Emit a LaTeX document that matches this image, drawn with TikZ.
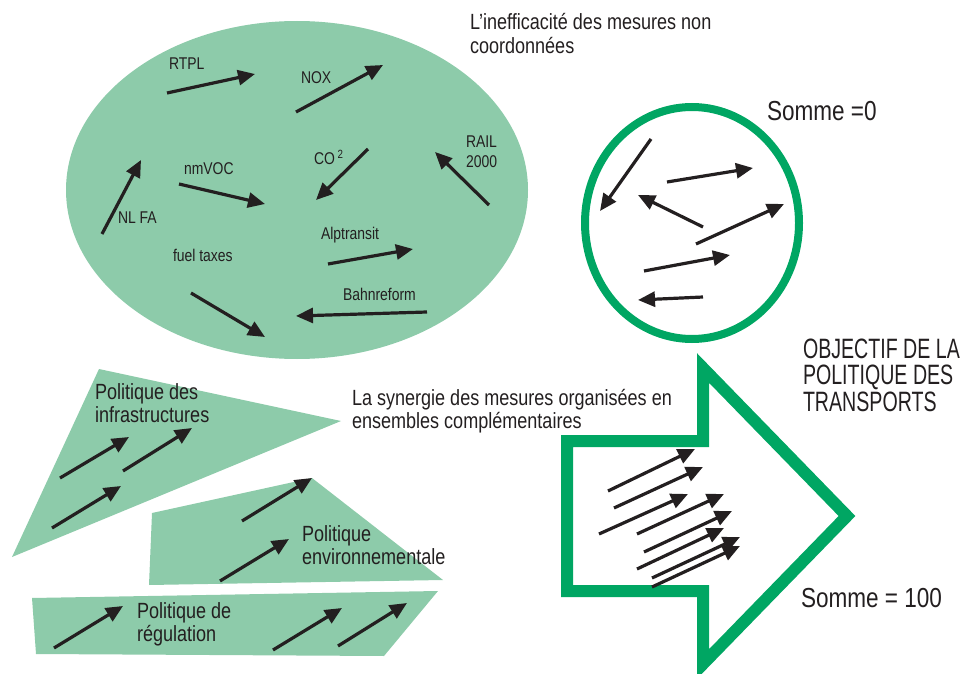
\documentclass[tikz,border=0pt]{standalone}
\usepackage{fontspec}
\setmainfont[FakeStretch=0.82]{Liberation Sans}
\newfontfamily\capsfont[FakeStretch=0.70]{Liberation Sans}
\usetikzlibrary{arrows.meta}

\definecolor{ink}{RGB}{35,31,32}
\definecolor{pale}{RGB}{141,203,170}
\definecolor{rim}{RGB}{0,166,99}

% two left-aligned lines whose baseline is the first line's baseline
\newcommand{\pair}[2]{\begin{tabular}[t]{@{}l@{}}#1\\#2\end{tabular}}

\tikzset{
  vec/.style={line width=3.2pt, draw=ink, -{Triangle[length=17pt,width=15pt]}},
  txt/.style={anchor=base west, inner sep=0pt, outer sep=0pt, text=ink},
  small/.style={txt, font=\fontsize{17}{19.5}\selectfont},
  body/.style={txt, font=\fontsize{22}{23}\selectfont},
  big/.style={txt, font=\fontsize{27.5}{30}\selectfont},
  heading/.style={txt, font=\capsfont\fontsize{28}{23.5}\selectfont},
  patch/.style={fill=pale, draw=none},
}

\begin{document}
\begin{tikzpicture}[x=1pt, y=-1pt]
\useasboundingbox (0,0) rectangle (962,674);

% ---------- uncoordinated measures: green ellipse ----------
\fill[pale] (297,190) ellipse [x radius=231, y radius=169];

\draw[vec] (167,93) -- (255,74);
\draw[vec] (296,112) -- (383,65);
\draw[vec] (368,149) -- (316,200);
\draw[vec] (489,205) -- (435,152);
\draw[vec] (179,184) -- (265,204);
\draw[vec] (102,234) -- (141,160);
\draw[vec] (328,264) -- (413,249);
\draw[vec] (191,293) -- (265,337);
\draw[vec] (427,312) -- (296,316);

\node[small] (rtpl) at (169,70) {RTPL};
\node[small] (nox) at (301,84) {NOX};
\node[small] (co2) at (314,165) {CO\,\textsuperscript{2}};
\node[small] (rail) at (466,148) {\pair{RAIL}{2000}};
\node[small] (nmvoc) at (184,175) {nmVOC};
\node[small] (nlfa) at (118,223) {NL FA};
\node[small] (alp) at (321,240) {Alptransit};
\node[small] (fuel) at (173,261) {fuel taxes};
\node[small] (bahn) at (343,300) {Bahnreform};

\node[body] (ineff) at (470,30) {\pair{L’inefficacité des mesures non}{coordonnées}};

% ---------- sum zero: outlined circle ----------
\draw[rim, line width=8pt] (692,223) ellipse [x radius=107, y radius=116];
\draw[vec] (651,139) -- (600,211);
\draw[vec] (667,182) -- (753,168);
\draw[vec] (703,227) -- (638,195);
\draw[vec] (696,244) -- (784,204);
\draw[vec] (644,271) -- (730,255);
\draw[vec] (703,297) -- (638,300);
\node[big] (zero) at (767,121) {Somme =0};

% ---------- policy groups ----------
\path[patch] (99,369) -- (341,421) -- (12,557) -- cycle;
\path[patch] (152,513) -- (312,478) -- (443,580) -- (149,585) -- cycle;
\path[patch] (32,598) -- (438,591) -- (384,656) -- (36,654) -- cycle;

\draw[vec] (60,478) -- (129,437);
\draw[vec] (123,471) -- (192,428);
\draw[vec] (52,528) -- (121,486);
\draw[vec] (242,521) -- (312,478);
\draw[vec] (220,581) -- (289,539);
\draw[vec] (54,648) -- (123,606);
\draw[vec] (273,650) -- (342,608);
\draw[vec] (338,646) -- (407,603);

\node[body] (infra) at (95,399) {\pair{Politique des}{infrastructures}};
\node[body] (env) at (302,541) {\pair{Politique}{environnementale}};
\node[body] (reg) at (137,618) {\pair{Politique de}{régulation}};
\node[body] (syn) at (352,405) {\pair{La synergie des mesures organisées en}{ensembles complémentaires}};

% ---------- transport policy objective: big outlined arrow ----------
\draw[rim, line width=12pt, line join=miter]
  (567,441) -- (703,441) -- (703,368) -- (847,516) -- (703,664)
  -- (703,591) -- (567,591) -- cycle;

\draw[vec] (608,491) -- (695,449);
\draw[vec] (614,508) -- (703,467);
\draw[vec] (599,534) -- (688,494);
\draw[vec] (637,534) -- (724,494);
\draw[vec] (644,552) -- (732,511);
\draw[vec] (637,569) -- (724,528);
\draw[vec] (652,578) -- (740,537);
\draw[vec] (652,587) -- (740,546);

\node[heading] (goal) at (803,358) {\begin{tabular}[t]{@{}l@{}}OBJECTIF DE LA\\POLITIQUE DES\\TRANSPORTS\end{tabular}};
\node[big] (hundred) at (801,607) {Somme = 100};
\end{tikzpicture}
\end{document}
